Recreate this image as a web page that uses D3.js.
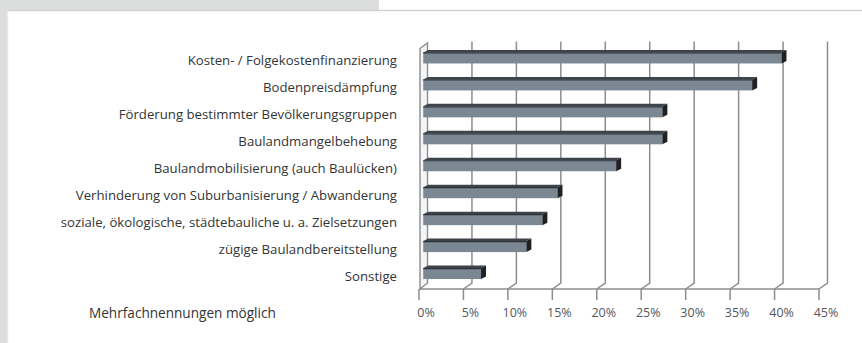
<!DOCTYPE html>
<html>
<head>
<meta charset="utf-8">
<script src="https://cdn.jsdelivr.net/npm/d3@7"></script>
<style>
  html, body { margin: 0; padding: 0; background: #ffffff; }
  svg { display: block; }
  text { font-family: "Open Sans", "DejaVu Sans", sans-serif; }
</style>
</head>
<body>
<div id="chart"></div>
<script>
// Motive (Mehrfachnennungen möglich), Anteil in Prozent
const categories = [
  "Kosten- / Folgekostenfinanzierung",
  "Bodenpreisdämpfung",
  "Förderung bestimmter Bevölkerungsgruppen",
  "Baulandmangelbehebung",
  "Baulandmobilisierung (auch Baulücken)",
  "Verhinderung von Suburbanisierung / Abwanderung",
  "soziale, ökologische, städtebauliche u. a. Zielsetzungen",
  "zügige Baulandbereitstellung",
  "Sonstige"
];
const values = [40.3, 37.0, 26.9, 26.9, 21.7, 15.1, 13.4, 11.6, 6.5];
const tickValues = [0, 5, 10, 15, 20, 25, 30, 35, 40, 45];
const tickLabels = ["0%", "5%", "10%", "15%", "20%", "25%", "30%", "35%", "40%", "45%"];
const note = "Mehrfachnennungen möglich";

const W = 862, H = 343;
const svg = d3.select("#chart").append("svg")
  .attr("width", W).attr("height", H);

// page frame: grey margin strip and white panel
svg.append("rect").attr("x", 0).attr("y", 0).attr("width", W).attr("height", H).attr("fill", "#ffffff");
svg.append("rect").attr("x", 0).attr("y", 0).attr("width", 379).attr("height", 10).attr("fill", "#dcdedd");
svg.append("rect").attr("x", 0).attr("y", 0).attr("width", 7).attr("height", H).attr("fill", "#dcdedd");
svg.append("line").attr("x1", 7).attr("x2", W).attr("y1", 10.5).attr("y2", 10.5)
  .attr("stroke", "#cfd1d0").attr("stroke-width", 1.5);
svg.append("line").attr("x1", 7.5).attr("x2", 7.5).attr("y1", 10).attr("y2", H)
  .attr("stroke", "#e6e8e7").attr("stroke-width", 1.5);

// 3D frame geometry: front floor edge and depth offset of the back wall
const x = d3.scaleLinear().domain([0, 45]).range([419, 819]);
const depthX = 8.5, depthY = -6;
const floorY = 289, wallTop = 41.5;
const y = d3.scaleBand().domain(categories).range([44, 286.5]);

const gridColor = "#8b8d8f";
const g = svg.append("g");

// left side wall
g.append("path")
  .attr("d", `M${x(0) + 1},${floorY} L${x(0) + 1},${wallTop + 7} L${x(0) + depthX},${wallTop + 1.5} L${x(0) + depthX},${floorY + depthY} Z`)
  .attr("fill", "#f4f5f6").attr("stroke", gridColor).attr("stroke-width", 1.4);

// back-wall gridlines, folded onto the floor
tickValues.slice(1).forEach(t => {
  const xb = x(t) + depthX;
  g.append("path")
    .attr("d", `M${xb},${wallTop} L${xb},${floorY + depthY} L${x(t)},${floorY}`)
    .attr("fill", "none").attr("stroke", gridColor).attr("stroke-width", 1.5);
});

// front floor edge with ticks
g.append("line").attr("x1", x(0)).attr("x2", x(45)).attr("y1", floorY).attr("y2", floorY)
  .attr("stroke", gridColor).attr("stroke-width", 1.5);
g.selectAll(".tick").data(tickValues).join("line")
  .attr("x1", d => x(d)).attr("x2", d => x(d))
  .attr("y1", floorY).attr("y2", floorY + 11)
  .attr("stroke", gridColor).attr("stroke-width", 1.5);
g.selectAll(".ticklabel").data(tickValues).join("text")
  .attr("x", d => x(d) + 7).attr("y", 317)
  .attr("text-anchor", "middle")
  .attr("font-size", 12.5).attr("fill", "#55575a")
  .text((d, i) => tickLabels[i]);

// bars, drawn at mid depth
const midX = v => x(v) + depthX / 2;
const capX = 5, capY = -2.5, barH = 11;
const barTop = i => y(categories[i]) + y.bandwidth() / 2 - 5;
const bars = g.selectAll(".bar").data(values).join("g");
bars.append("path")
  .attr("d", (v, i) => {
    const top = barTop(i);
    return `M${midX(0)},${top} L${midX(0) + capX},${top + capY} L${midX(v) + capX},${top + capY} L${midX(v)},${top} Z`;
  })
  .attr("fill", "#3d4349");
bars.append("rect")
  .attr("x", midX(0))
  .attr("y", (v, i) => barTop(i))
  .attr("width", v => midX(v) - midX(0))
  .attr("height", barH)
  .attr("fill", "#7b8793");
bars.append("line")
  .attr("x1", midX(0)).attr("x2", v => midX(v))
  .attr("y1", (v, i) => barTop(i) + 0.5).attr("y2", (v, i) => barTop(i) + 0.5)
  .attr("stroke", "#2e3338").attr("stroke-width", 1.2);
bars.append("path")
  .attr("d", (v, i) => {
    const top = barTop(i);
    return `M${midX(v)},${top} L${midX(v) + capX},${top + capY} L${midX(v) + capX},${top + capY + barH} L${midX(v)},${top + barH} Z`;
  })
  .attr("fill", "#1f2124");

// category labels
g.selectAll(".label").data(categories).join("text")
  .attr("x", 397)
  .attr("y", d => y(d) + y.bandwidth() / 2 + 7.5)
  .attr("text-anchor", "end")
  .attr("font-size", 13.2).attr("fill", "#333537")
  .text(d => d);

svg.append("text").attr("x", 89).attr("y", 318)
  .attr("font-size", 13.6).attr("fill", "#333537")
  .text(note);
</script>
</body>
</html>
